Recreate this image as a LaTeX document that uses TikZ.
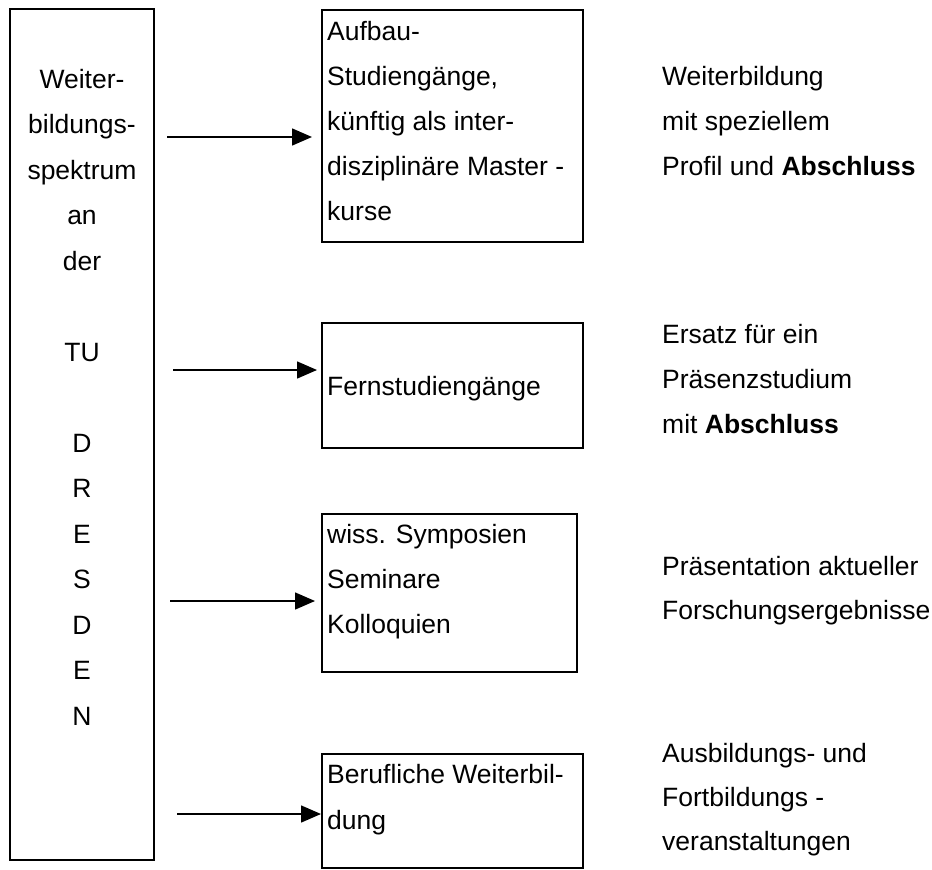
\documentclass[tikz,border=0pt]{standalone}
\usepackage{fontspec}
\setmainfont{Liberation Sans}
\usetikzlibrary{arrows.meta}
\begin{document}
\begin{tikzpicture}[x=1pt,y=-1pt,
  box/.style={draw=black, line width=2pt, inner sep=0pt, rectangle},
  txt/.style={font=\fontsize{26.5}{30}\selectfont, inner sep=0pt, anchor=base west},
  ctxt/.style={font=\fontsize{26.5}{30}\selectfont, inner sep=0pt, anchor=base},
  arr/.style={line width=1.5pt, -{Triangle[length=20pt,width=17pt]}}]
\useasboundingbox (0,0) rectangle (932,870);
% boxes
\node[box, minimum width=144pt, minimum height=851pt] (L) at (82,434.5) {};
\node[box, minimum width=261pt, minimum height=232pt] (b1) at (452.5,126) {};
\node[box, minimum width=261pt, minimum height=125pt] (b2) at (452.5,385.5) {};
\node[box, minimum width=255pt, minimum height=158pt] (b3) at (449.5,593) {};
\node[box, minimum width=261pt, minimum height=114pt] (b4) at (452.5,811) {};
% left column text
\foreach \t/\k [count=\i] in {Weiter-/0, bildungs-/1, spektrum/2, an/3, der/4, TU/6, D/8, R/9, E/10, S/11, D/12, E/13, N/14}
  \node[ctxt] (l\i) at (82,{88+45.5*\k}) {\t};
% box texts
\node[txt] (t11) at (327,40) {Aufbau-};
\node[txt] (t12) at (327,85) {Studiengänge,};
\node[txt] (t13) at (327,130) {künftig als inter-};
\node[txt] (t14) at (327,175) {disziplinäre Master -};
\node[txt] (t15) at (327,220) {kurse};
\node[txt] (t21) at (327,395) {Fernstudiengänge};
\node[txt] (t31) at (327,543) {wiss. Symposien};
\node[txt] (t32) at (327,588) {Seminare};
\node[txt] (t33) at (327,633) {Kolloquien};
\node[txt] (t41) at (327,783) {Berufliche Weiterbil-};
\node[txt] (t42) at (327,829) {dung};
% right texts
\node[txt] (r11) at (662,85) {Weiterbildung};
\node[txt] (r12) at (662,130) {mit speziellem};
\node[txt] (r13) at (662,175) {Profil und \textbf{Abschluss}};
\node[txt] (r21) at (662,343) {Ersatz für ein};
\node[txt] (r22) at (662,388) {Präsenzstudium};
\node[txt] (r23) at (662,433) {mit \textbf{Abschluss}};
\node[txt] (r31) at (662,575) {Präsentation aktueller};
\node[txt] (r32) at (662,619) {Forschungsergebnisse};
\node[txt] (r41) at (662,762) {Ausbildungs- und};
\node[txt] (r42) at (662,806) {Fortbildungs -};
\node[txt] (r43) at (662,850) {veranstaltungen};
% arrows
\coordinate (a1) at (167,137);
\coordinate (a2) at (173,370);
\coordinate (a3) at (170,601);
\coordinate (a4) at (177,814);
\draw[arr, shorten >=9pt] (a1) -- (a1 -| b1.west);
\draw[arr, shorten >=4pt] (a2) -- (a2 -| b2.west);
\draw[arr, shorten >=6pt] (a3) -- (a3 -| b3.west);
\draw[arr] (a4) -- (a4 -| b4.west);
\end{tikzpicture}
\end{document}
